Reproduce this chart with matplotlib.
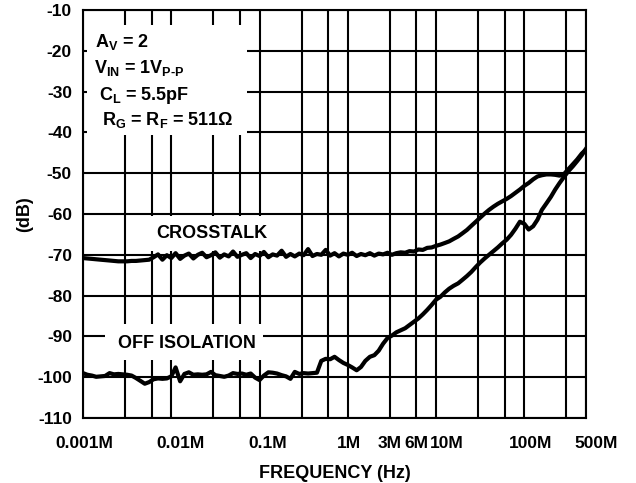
import matplotlib
matplotlib.use("Agg")
import matplotlib.pyplot as plt
import matplotlib.transforms as mtransforms
from matplotlib.patches import Rectangle

# -----------------------------
# Data (frequency in MHz, level in dB)
# -----------------------------
freq_mhz = [
    0.00100, 0.00112, 0.00126, 0.00141, 0.00158, 0.00178, 0.00200, 0.00224, 0.00251, 0.00282,
    0.00316, 0.00355, 0.00398, 0.00447, 0.00501, 0.00562, 0.00631, 0.00708, 0.00794, 0.00891,
    0.0100, 0.0112, 0.0126, 0.0141, 0.0158, 0.0178, 0.0200, 0.0224, 0.0251, 0.0282,
    0.0316, 0.0355, 0.0398, 0.0447, 0.0501, 0.0562, 0.0631, 0.0708, 0.0794, 0.0891,
    0.100, 0.112, 0.126, 0.141, 0.158, 0.178, 0.200, 0.224, 0.251, 0.282,
    0.316, 0.355, 0.398, 0.447, 0.501, 0.562, 0.631, 0.708, 0.794, 0.891,
    1.00, 1.12, 1.26, 1.41, 1.58, 1.78, 2.00, 2.24, 2.51, 2.82,
    3.16, 3.55, 3.98, 4.47, 5.01, 5.62, 6.31, 7.08, 7.94, 8.91,
    10.0, 11.2, 12.6, 14.1, 15.8, 17.8, 20.0, 22.4, 25.1, 28.2,
    31.6, 35.5, 39.8, 44.7, 50.1, 56.2, 63.1, 70.8, 79.4, 89.1,
    100, 112, 126, 141, 158, 178, 200, 224, 251, 282,
    316, 355, 398, 447, 500,
]

crosstalk_db = [
    -70.8, -70.9, -71.0, -71.1, -71.2, -71.3, -71.4, -71.5, -71.6, -71.6,
    -71.6, -71.5, -71.5, -71.4, -71.3, -71.2,
    -70.6, -69.9, -71.2, -70.1, -70.8, -69.6, -71.0, -70.2, -69.7, -70.9,
    -70.0, -69.5, -70.6, -70.1, -69.4, -70.7, -69.9, -70.4, -69.2, -70.5,
    -70.0, -69.6, -70.8, -69.8, -70.3, -69.3, -70.6, -69.9, -70.2, -69.0,
    -70.5, -69.8, -70.4, -69.7, -70.1, -68.6, -70.3, -69.8, -70.0, -68.8,
    -70.2, -69.6, -70.4, -69.7, -70.0, -69.5, -70.3, -69.8, -70.1, -69.6,
    -70.2, -69.7, -69.9, -69.5, -70.0,
    -69.6, -69.4, -69.5, -69.1, -69.2, -68.7, -68.8, -68.3, -68.2, -67.8,
    -67.5, -67.1, -66.7, -66.1, -65.5, -64.7, -63.9, -62.9, -61.9, -60.9,
    -59.9, -59.0, -58.2, -57.5, -56.9, -56.3, -55.6, -54.8, -54.0, -53.1,
    -52.4, -51.5, -50.8, -50.5, -50.3, -50.3, -50.4, -50.6, -50.2, -49.0,
    -47.8, -46.6, -45.2, -44.2,
]

off_isolation_db = [
    -99.0, -99.4, -99.6, -99.9, -99.8, -99.7, -99.0, -99.3, -99.2, -99.3,
    -99.4, -99.6, -100.2, -100.9, -101.6, -101.2, -100.5, -100.3, -100.4, -100.3,
    -99.8, -97.6, -101.0, -99.2, -98.8, -99.4, -99.3, -99.4, -99.3, -98.7,
    -99.5, -99.7, -99.9, -99.6, -99.0, -99.2, -99.1, -99.4, -99.1, -100.1,
    -100.7, -99.6, -98.8, -98.9, -99.1, -99.5, -99.8, -100.4, -98.7, -99.2,
    -99.0, -99.1, -99.0, -98.9, -96.0, -95.5, -95.6, -95.0, -95.8, -96.5,
    -97.0, -97.6, -98.3, -97.5, -96.0, -95.0, -94.6, -93.5, -91.8, -90.4,
    -89.8, -89.0, -88.5, -88.0, -87.2, -86.4, -85.6, -84.6, -83.5, -82.3,
    -81.0, -80.3, -79.2, -78.3, -77.6, -77.0, -76.1, -75.2, -74.2, -73.0,
    -71.9, -70.9, -70.0, -69.1, -68.2, -67.2, -66.3, -65.1, -63.6, -61.9,
    -62.4, -63.8, -63.0, -61.4, -59.0, -57.4, -55.8, -54.0, -52.4, -50.9,
    -49.5, -48.3, -47.0, -45.6, -44.0,
]

xtick_values = [0.001, 0.01, 0.1, 1, 3, 6, 10, 100, 500]
xtick_labels = ["0.001M", "0.01M", "0.1M", "1M", "3M", "6M", "10M", "100M", "500M"]
xgrid_values = [0.003, 0.006, 0.03, 0.06, 0.3, 0.6, 30, 60, 300]
ytick_values = [-110, -100, -90, -80, -70, -60, -50, -40, -30, -20, -10]

# -----------------------------
# Style
# -----------------------------
plt.rcParams["font.family"] = ["Liberation Sans", "DejaVu Sans"]
plt.rcParams["font.weight"] = "bold"
plt.rcParams["mathtext.fontset"] = "custom"
plt.rcParams["mathtext.rm"] = "Liberation Sans:bold"
plt.rcParams["mathtext.it"] = "Liberation Sans:bold"
plt.rcParams["mathtext.bf"] = "Liberation Sans:bold"
plt.rcParams["mathtext.default"] = "rm"

W, H = 636, 483
fig = plt.figure(figsize=(W / 100, H / 100), dpi=100)
ax = fig.add_axes([83 / W, 1 - 418 / H, 503 / W, 408 / H])

ax.set_xscale("log")
ax.set_xlim(0.001, 500)
ax.set_ylim(-110, -10)

ax.set_xticks(xtick_values)
ax.set_xticklabels(xtick_labels)
ax.set_xticks(xgrid_values, minor=True)
ax.xaxis.set_minor_formatter(matplotlib.ticker.NullFormatter())
ax.set_yticks(ytick_values)
ax.set_yticklabels([str(v) for v in ytick_values])

ax.tick_params(axis="both", which="both", length=0, labelsize=12.5)
ax.tick_params(axis="x", pad=13)
ax.tick_params(axis="y", pad=8)

ax.grid(True, which="both", color="black", linewidth=1.5)
ax.set_axisbelow(True)
for sp in ax.spines.values():
    sp.set_linewidth(1.5)

# nudge x tick labels like the original artwork
offsets_px = [1, 9, 8, 1, 0, 0, 11, 6, 10]
for lbl, dx in zip(ax.get_xticklabels(), offsets_px):
    lbl.set_transform(lbl.get_transform() +
                      mtransforms.ScaledTranslation(dx / 100, 0, fig.dpi_scale_trans))

# white label backgrounds
for (x0, y0, w, h) in [(0.008, 0.694, 0.318, 0.269),
                       (0.0875, 0.409, 0.3435, 0.086),
                       (0.0437, 0.142, 0.3143, 0.088)]:
    ax.add_patch(Rectangle((x0, y0), w, h, transform=ax.transAxes,
                           facecolor="white", edgecolor="none", zorder=1))

ax.plot(freq_mhz, crosstalk_db, color="black", linewidth=3, zorder=3)
ax.plot(freq_mhz, off_isolation_db, color="black", linewidth=3, zorder=3)

ax.set_xlabel("FREQUENCY (Hz)", fontsize=13, fontweight="bold", labelpad=10)
ax.set_ylabel("(dB)", fontsize=13, fontweight="bold", labelpad=3)

# annotations (pixel positions converted to figure fraction)
def ftext(x, y, s, **kw):
    fig.text(x / W, 1 - y / H, s, fontsize=13, fontweight="bold", va="baseline", **kw)

ftext(95, 46.7, r"A$_V$ = 2")
ftext(94, 73.3, r"V$_{IN}$ = 1V$_{P\text{-}P}$")
ftext(99, 100, r"C$_L$ = 5.5pF")
ftext(102, 125, r"R$_G$ = R$_F$ = 511Ω")
ftext(212, 237.7, "CROSSTALK", ha="center")
ftext(186.7, 348.3, "OFF ISOLATION", ha="center")

fig.savefig("out.png", dpi=100)
